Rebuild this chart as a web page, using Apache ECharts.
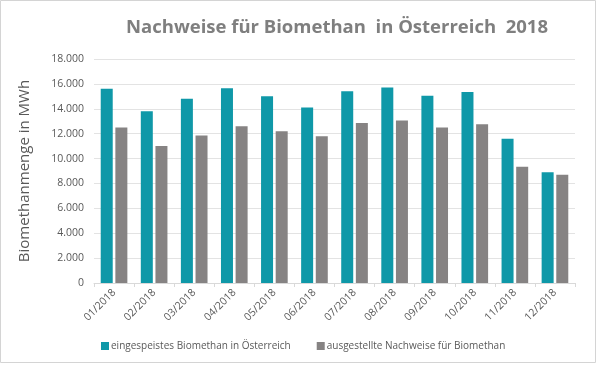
<!DOCTYPE html>
<html>
<head>
<meta charset="utf-8">
<script src="https://cdn.jsdelivr.net/npm/echarts@6/dist/echarts.min.js"></script>
<style>
html,body{margin:0;padding:0;background:#fff;}
#c{width:600px;height:365px;}
</style>
</head>
<body>
<div id="c"></div>
<script>
const categories = ['01/2018','02/2018','03/2018','04/2018','05/2018','06/2018','07/2018','08/2018','09/2018','10/2018','11/2018','12/2018'];
const eingespeist = [15600, 13800, 14800, 15650, 15000, 14100, 15400, 15700, 15050, 15350, 11600, 8900];
const nachweise = [12500, 11000, 11850, 12600, 12200, 11800, 12850, 13050, 12500, 12750, 9350, 8700];
const seriesNames = ['eingespeistes Biomethan in Österreich', 'ausgestellte Nachweise für Biomethan'];

const chart = echarts.init(document.getElementById('c'), null, {renderer:'canvas'});
const fmt = v => String(v).replace(/\B(?=(\d{3})+(?!\d))/g, '.');
chart.setOption({
  animation: false,
  textStyle: {fontFamily: 'Open Sans'},
  graphic: [{
    type: 'rect', silent: true,
    shape: {x: 0.5, y: 0.5, width: 595, height: 362},
    style: {fill: 'none', stroke: '#d4d4d4', lineWidth: 1}
  }],
  title: {
    text: 'Nachweise für Biomethan  in Österreich  2018',
    left: 332, top: 13, textAlign: 'center',
    textStyle: {fontFamily: 'Open Sans', fontWeight: 'bold', fontSize: 18.5, color: '#7f7f7f'}
  },
  legend: {
    bottom: 9, left: 96,
    itemWidth: 8, itemHeight: 8, itemGap: 26,
    icon: 'rect',
    textStyle: {fontSize: 10, color: '#595959', padding: [0,0,0,-3]},
    data: seriesNames
  },
  grid: {left: 94, right: 25, top: 59, bottom: 82},
  xAxis: {
    type: 'category', data: categories,
    axisLine: {lineStyle: {color: '#d9d9d9'}},
    axisTick: {show: true, lineStyle: {color: '#d9d9d9'}, length: 4},
    axisLabel: {rotate: 45, color: '#595959', fontSize: 10.5, margin: 8}
  },
  yAxis: {
    type: 'value', min: 0, max: 18000, interval: 2000,
    name: 'Biomethanmenge in MWh', nameLocation: 'middle', nameGap: 62,
    nameTextStyle: {fontSize: 15, color: '#595959'},
    axisLine: {show: false}, axisTick: {show: false},
    axisLabel: {color: '#595959', fontSize: 10.5, margin: 10, formatter: fmt},
    splitLine: {lineStyle: {color: '#e3e3e3'}}
  },
  series: [
    {name: seriesNames[0], type: 'bar', data: eingespeist, barWidth: 12, barGap: '22%',
     itemStyle: {color: '#0f98a8'}},
    {name: seriesNames[1], type: 'bar', data: nachweise, barWidth: 12,
     itemStyle: {color: '#868383'}}
  ]
});
</script>
</body>
</html>
